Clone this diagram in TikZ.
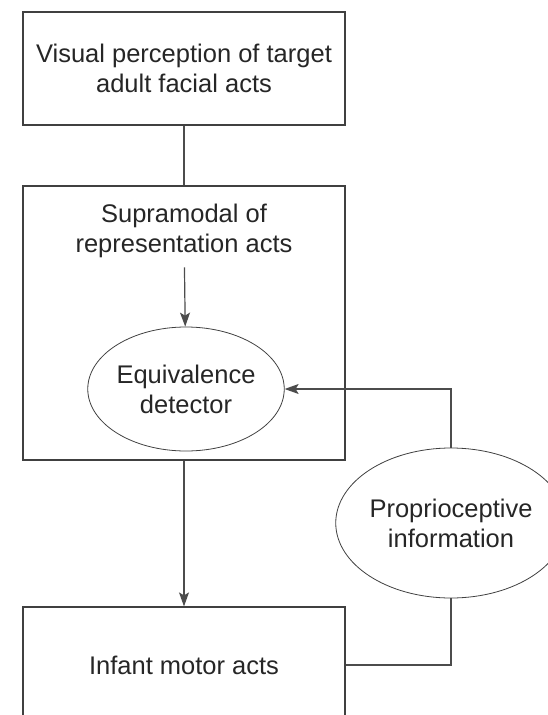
\documentclass[tikz,border=0pt]{standalone}
\usepackage{fontspec}
\setmainfont{Liberation Sans}
\usetikzlibrary{arrows.meta,shapes.geometric}

\begin{document}
\begin{tikzpicture}[x=1pt,y=-1pt,
    font=\fontsize{25.5}{30}\selectfont,
    every node/.style={text=black!85,align=center},
    box/.style={draw=black!75,line width=1.2pt,rectangle,minimum width=322pt},
    oval/.style={draw=black!75,line width=0.8pt,ellipse,inner sep=0pt},
    link/.style={draw=black!70,line width=1.2pt},
    arr/.style={link,-{Stealth[length=14pt,width=10pt,inset=3pt]}}]
    \clip (0,0) rectangle (548,715);
	% boxes
    \node[box, minimum height=113pt] (top) at (184,68.5) {Visual perception of target\\adult facial acts};
    \node[box, minimum height=274pt] (supra) at (184,323) {};
    \node (supratxt) at (184,231) {Supramodal of\\representation acts};
    \node[oval, minimum width=171pt, minimum height=124pt] (equiv) at (186,389) {Equivalence\\detector};
    \node[oval, minimum width=198pt, minimum height=150pt] (proprio) at (451,523) {Proprioceptive\\information};
    \node[box, minimum height=116pt] (motor) at (184,665) {Infant motor acts};
	% links
    \draw[link] (top) -- (supra);
    \draw[arr, shorten <=6pt] (supratxt) -- (equiv);
    \draw[arr] (supra) -- (motor);
    \draw[arr] (proprio.north) |- (equiv.east);
    \draw[link] (motor.east) -| (proprio.south);
\end{tikzpicture}
\end{document}
